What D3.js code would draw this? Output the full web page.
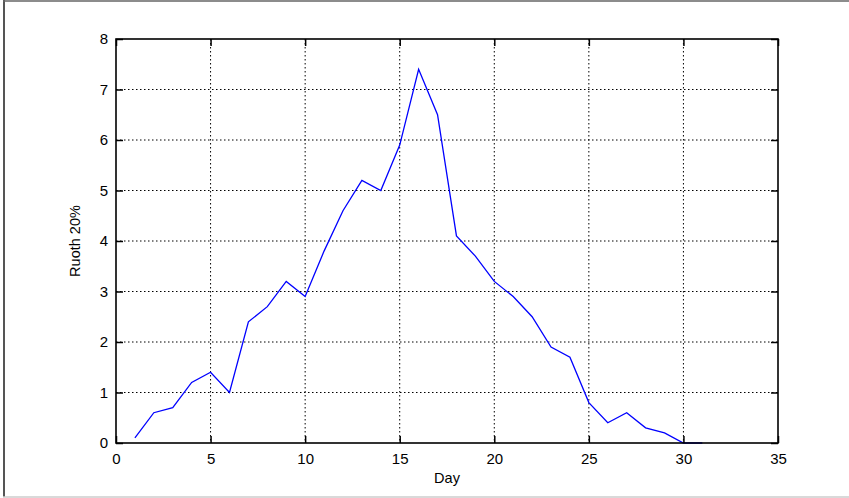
<!DOCTYPE html>
<html>
<head>
<meta charset="utf-8">
<script src="https://cdn.jsdelivr.net/npm/d3@7"></script>
<style>
  html, body { margin: 0; padding: 0; background: #fff; }
  svg { display: block; }
  text { font-family: "Liberation Sans", Arial, Helvetica, sans-serif; fill: #000; }
</style>
</head>
<body>
<svg id="chart" width="849" height="498"></svg>
<script>
// Daily values of Ruoth 20%
const days = [1, 2, 3, 4, 5, 6, 7, 8, 9, 10, 11, 12, 13, 14, 15, 16, 17, 18, 19, 20,
              21, 22, 23, 24, 25, 26, 27, 28, 29, 30, 31];
const ruoth = [0.1, 0.6, 0.7, 1.2, 1.4, 1.0, 2.4, 2.7, 3.2, 2.9, 3.8, 4.6, 5.2, 5.0, 5.9, 7.4,
               6.5, 4.1, 3.7, 3.2, 2.9, 2.5, 1.9, 1.7, 0.8, 0.4, 0.6, 0.3, 0.2, 0.0, 0.0];
const xTicks = [0, 5, 10, 15, 20, 25, 30, 35];
const yTicks = [0, 1, 2, 3, 4, 5, 6, 7, 8];
const xLabel = "Day";
const yLabel = "Ruoth 20%";

const svg = d3.select("#chart");
const W = 849, H = 498;
const m = { left: 116, right: W - 778, top: 39, bottom: H - 443 };

// figure frame: dark left and top edges, light bottom edge
svg.append("line").attr("x1", 4).attr("x2", 4).attr("y1", 0).attr("y2", 497)
  .attr("stroke", "#555").attr("stroke-width", 2);
svg.append("line").attr("x1", 3).attr("x2", W).attr("y1", 1).attr("y2", 1)
  .attr("stroke", "#666").attr("stroke-width", 1.5);
svg.append("line").attr("x1", 3).attr("x2", W).attr("y1", 497).attr("y2", 497)
  .attr("stroke", "#ccc").attr("stroke-width", 1.5);

const x = d3.scaleLinear().domain([0, 35]).range([m.left, W - m.right]);
const y = d3.scaleLinear().domain([0, 8]).range([H - m.bottom, m.top]);

// dotted grid
const grid = svg.append("g").attr("stroke", "#000").attr("stroke-width", 1)
  .attr("stroke-dasharray", "1.5,2.5");
grid.selectAll("line.gx").data(xTicks.slice(1, -1)).join("line")
  .attr("x1", d => x(d)).attr("x2", d => x(d))
  .attr("y1", y(8)).attr("y2", y(0));
grid.selectAll("line.gy").data(yTicks.slice(1, -1)).join("line")
  .attr("x1", x(0)).attr("x2", x(35))
  .attr("y1", d => y(d)).attr("y2", d => y(d));

// data line
const line = d3.line().x((d, i) => x(days[i])).y(d => y(d));
svg.append("path").datum(ruoth)
  .attr("d", line).attr("fill", "none")
  .attr("stroke", "#0000ff").attr("stroke-width", 1.3);

// axes with inward ticks on all four sides
const tl = 7;
const fmt = d3.format("d");
const axBottom = svg.append("g").attr("transform", `translate(0,${y(0)})`)
  .call(d3.axisBottom(x).tickValues(xTicks).tickSize(-tl).tickPadding(tl + 3).tickFormat(fmt));
const axTop = svg.append("g").attr("transform", `translate(0,${y(8)})`)
  .call(d3.axisTop(x).tickValues(xTicks).tickSize(-tl).tickFormat(""));
const axLeft = svg.append("g").attr("transform", `translate(${x(0)},0)`)
  .call(d3.axisLeft(y).tickValues(yTicks).tickSize(-tl).tickPadding(tl + 1).tickFormat(fmt));
const axRight = svg.append("g").attr("transform", `translate(${x(35)},0)`)
  .call(d3.axisRight(y).tickValues(yTicks).tickSize(-tl).tickFormat(""));

[axBottom, axTop, axLeft, axRight].forEach(g => {
  g.select(".domain").remove();
  g.selectAll(".tick line").attr("stroke", "#000").attr("stroke-width", 1.5);
  g.selectAll("text").attr("font-size", 15).attr("font-family", "Liberation Sans, Arial, sans-serif");
});

// plot border
svg.append("rect")
  .attr("x", x(0)).attr("y", y(8))
  .attr("width", x(35) - x(0)).attr("height", y(0) - y(8))
  .attr("fill", "none").attr("stroke", "#000").attr("stroke-width", 1.6);

// axis titles
svg.append("text").attr("x", (x(0) + x(35)) / 2).attr("y", 483)
  .attr("text-anchor", "middle").attr("font-size", 14.5).text(xLabel);
svg.append("text")
  .attr("transform", `translate(80,${(y(0) + y(8)) / 2}) rotate(-90)`)
  .attr("text-anchor", "middle").attr("font-size", 14.5).text(yLabel);
</script>
</body>
</html>
